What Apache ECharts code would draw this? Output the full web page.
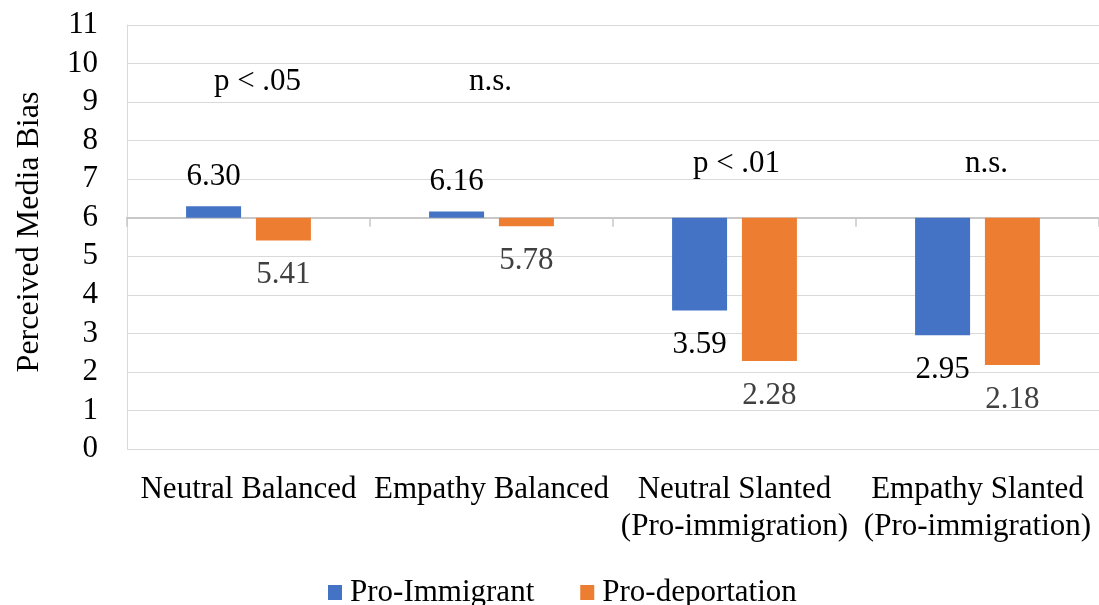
<!DOCTYPE html>
<html>
<head>
<meta charset="utf-8">
<script src="https://cdn.jsdelivr.net/npm/echarts@6/dist/echarts.min.js"></script>
<style>
  html, body { margin: 0; padding: 0; background: #fff; }
  #chart { width: 1099px; height: 605px; }
</style>
</head>
<body>
<div id="chart"></div>
<script>
// Perceived media bias by article condition, scale midpoint 6
const categories = ['Neutral Balanced', 'Empathy Balanced', 'Neutral Slanted\n(Pro-immigration)', 'Empathy Slanted\n(Pro-immigration)'];
const proImmigrant = [6.30, 6.16, 3.59, 2.95];
const proDeportation = [5.41, 5.78, 2.28, 2.18];
const notes = ['p < .05', 'n.s.', 'p < .01', 'n.s.'];
const noteLevels = [9.52, 9.52, 7.41, 7.41];
const yTicks = [0, 1, 2, 3, 4, 5, 6, 7, 8, 9, 10, 11];

// bars grow up or down from the scale midpoint
const BASE = 6;
const FONT = 'Liberation Serif, Times New Roman, serif';
const noteShift = [9, -1, 2, 9];

function barData(values) {
  return values.map(v => ({
    value: v - BASE,
    label: {
      position: v >= BASE ? 'top' : 'bottom',
      distance: v >= BASE ? 14 : 19
    }
  }));
}

const chart = echarts.init(document.getElementById('chart'), null, { renderer: 'canvas' });

chart.setOption({
  animation: false,
  textStyle: { fontFamily: FONT },
  grid: { left: 127, right: 0, top: 25, bottom: 156, containLabel: false },
  legend: {
    data: ['Pro-Immigrant', 'Pro-deportation'],
    left: 328,
    top: 577,
    padding: 0,
    itemWidth: 14,
    itemHeight: 15,
    itemGap: 46,
    icon: 'rect',
    textStyle: { fontFamily: FONT, fontSize: 31, color: '#000', padding: [0, 0, 0, 3] }
  },
  xAxis: [
    {
      // axis line across the midpoint, with boundary ticks
      type: 'category',
      data: categories,
      position: 'bottom',
      axisLine: { show: true, onZero: true, lineStyle: { color: '#c8c8c8', width: 2 } },
      axisTick: { show: true, length: 9, lineStyle: { color: '#c8c8c8', width: 1.5 } },
      axisLabel: { show: false },
      splitLine: { show: false }
    },
    {
      // category names along the bottom of the plot
      type: 'category',
      data: categories,
      position: 'bottom',
      axisLine: { show: false, onZero: false },
      axisTick: { show: false },
      splitLine: { show: false },
      axisLabel: {
        show: true,
        interval: 0,
        margin: 22,
        fontFamily: FONT,
        fontSize: 31,
        lineHeight: 37,
        color: '#000',
        verticalAlign: 'top'
      }
    }
  ],
  yAxis: {
    type: 'value',
    min: -BASE,
    max: yTicks[yTicks.length - 1] - BASE,
    interval: 1,
    name: 'Perceived Media Bias',
    nameLocation: 'middle',
    nameRotate: 90,
    nameGap: 81,
    nameTextStyle: { fontFamily: FONT, fontSize: 32, color: '#000', padding: [0, 0, 0, 10] },
    axisLine: { show: true, lineStyle: { color: '#d9d9d9', width: 1 } },
    axisTick: { show: false },
    axisLabel: {
      margin: 29,
      fontFamily: FONT,
      fontSize: 31,
      color: '#000',
      formatter: v => String(Math.round(v + BASE))
    },
    splitLine: { show: true, lineStyle: { color: '#d9d9d9', width: 1 } }
  },
  series: [
    {
      name: 'Pro-Immigrant',
      type: 'bar',
      xAxisIndex: 0,
      barWidth: 55,
      barGap: '27%',
      itemStyle: { color: '#4472C4' },
      label: {
        show: true,
        fontFamily: FONT,
        fontSize: 31,
        lineHeight: 31,
        color: '#000',
        formatter: p => proImmigrant[p.dataIndex].toFixed(2)
      },
      data: barData(proImmigrant)
    },
    {
      name: 'Pro-deportation',
      type: 'bar',
      xAxisIndex: 0,
      barWidth: 55,
      barGap: '27%',
      itemStyle: { color: '#ED7D31' },
      label: {
        show: true,
        fontFamily: FONT,
        fontSize: 31,
        lineHeight: 31,
        color: '#404040',
        formatter: p => proDeportation[p.dataIndex].toFixed(2)
      },
      data: barData(proDeportation)
    },
    {
      name: 'notes',
      type: 'scatter',
      xAxisIndex: 0,
      symbolSize: 1,
      itemStyle: { color: 'rgba(0,0,0,0)', opacity: 1 },
      silent: true,
      label: {
        show: true,
        position: 'inside',
        fontFamily: FONT,
        fontSize: 31,
        lineHeight: 31,
        color: '#000',
        opacity: 1,
        textBorderWidth: 0,
        formatter: p => notes[p.dataIndex]
      },
      data: categories.map((c, i) => ({
        value: [i, noteLevels[i] - BASE],
        label: { offset: [noteShift[i], 0] }
      }))
    }
  ]
});
</script>
</body>
</html>
